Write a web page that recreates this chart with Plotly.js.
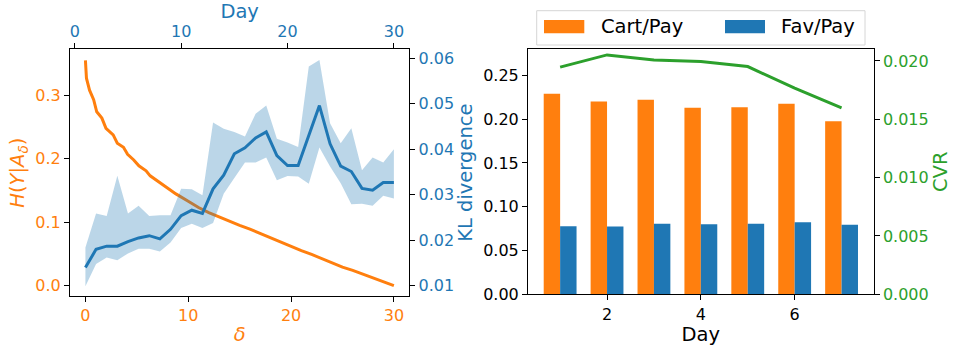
<!DOCTYPE html>
<html>
<head>
<meta charset="utf-8">
<script src="https://cdn.plot.ly/plotly-3.0.1.min.js"></script>
<style>html,body{margin:0;padding:0;background:#fff;}#chart{width:953px;height:346px;}</style>
</head>
<body>
<div id="chart"></div>
<script>
// ---- Left panel data ----
const deltaVals = [0,0.1,0.4,0.8,1.1,1.6,2,2.7,3.1,3.7,4.1,4.7,5.2,5.9,6.3,7.1,7.9,8.8,10,11,12,13,14,15,16,17,18,19,20,21,22,23,24,25,26,27,28,29,30];
const entropyVals = [0.355,0.327,0.308,0.293,0.274,0.264,0.248,0.2375,0.2244,0.218,0.207,0.198,0.1887,0.181,0.173,0.164,0.155,0.1445,0.133,0.123,0.115,0.108,0.101,0.095,0.089,0.082,0.075,0.068,0.062,0.055,0.049,0.042,0.036,0.029,0.024,0.018,0.012,0.006,0.0];

const klDays = [1,2,3,4,5,6,7,8,9,10,11,12,13,14,15,16,17,18,19,20,21,22,23,24,25,26,27,28,29,30];
const klMean = [0.0140,0.0180,0.0187,0.0187,0.0197,0.0205,0.0210,0.0203,0.0224,0.0254,0.0266,0.0259,0.0313,0.0343,0.0390,0.0403,0.0425,0.0438,0.0386,0.0364,0.0364,0.0430,0.0496,0.0412,0.0363,0.0351,0.0314,0.0310,0.0327,0.0327];
const klUpper = [0.0184,0.0259,0.0253,0.0342,0.0259,0.0276,0.0253,0.0255,0.0255,0.0313,0.0312,0.0299,0.0459,0.0445,0.0438,0.0428,0.0478,0.0496,0.0423,0.0415,0.0405,0.0582,0.0596,0.0457,0.0413,0.0446,0.0354,0.0382,0.0371,0.0400];
const klLower = [0.0099,0.0148,0.0162,0.0156,0.0171,0.0181,0.0181,0.0175,0.0195,0.0227,0.0236,0.0227,0.0238,0.0302,0.0337,0.0371,0.0371,0.0382,0.0332,0.0341,0.0340,0.0324,0.0404,0.0362,0.0325,0.0279,0.0280,0.0276,0.0298,0.0292];

// ---- Right panel data ----
const weekDays = [1,2,3,4,5,6,7];
const cartPay = [0.229,0.220,0.222,0.213,0.2134,0.2176,0.1975];
const favPay = [0.0776,0.0773,0.0806,0.0799,0.0806,0.0822,0.0795];
const cvrVals = [0.01947,0.02052,0.02009,0.01995,0.01952,0.01767,0.01598];
const legendNames = ['Cart/Pay','Fav/Pay'];

const ORANGE = '#ff7f0e', BLUE = '#1f77b4', GREEN = '#2ca02c';
const FONT = 'DejaVu Sans, sans-serif';
const W = 953, H = 346;
const px = v => v / W, py = v => 1 - v / H;

const traces = [
  {x: deltaVals, y: entropyVals, xaxis: 'x', yaxis: 'y', mode: 'lines',
   line: {color: ORANGE, width: 3}, showlegend: false, hoverinfo: 'skip'},
  {x: klDays, y: klLower, xaxis: 'x2', yaxis: 'y2', mode: 'lines',
   line: {width: 0, color: 'rgba(0,0,0,0)'}, showlegend: false, hoverinfo: 'skip'},
  {x: klDays, y: klUpper, xaxis: 'x2', yaxis: 'y2', mode: 'lines', fill: 'tonexty',
   fillcolor: 'rgba(31,119,180,0.3)', line: {width: 0, color: 'rgba(0,0,0,0)'},
   showlegend: false, hoverinfo: 'skip'},
  {x: klDays, y: klMean, xaxis: 'x2', yaxis: 'y2', mode: 'lines',
   line: {color: BLUE, width: 3}, showlegend: false},
  {type: 'bar', name: legendNames[0], x: weekDays, y: cartPay, xaxis: 'x3', yaxis: 'y3',
   width: 0.35, offset: -0.35, marker: {color: ORANGE}, showlegend: false},
  {type: 'bar', name: legendNames[1], x: weekDays, y: favPay, xaxis: 'x3', yaxis: 'y3',
   width: 0.35, offset: 0, marker: {color: BLUE}, showlegend: false},
  {x: weekDays, y: cvrVals, xaxis: 'x3', yaxis: 'y4', mode: 'lines',
   line: {color: GREEN, width: 3}, showlegend: false}
];

const tickFont = c => ({family: FONT, size: 16, color: c});
const titleFont = c => ({family: FONT, size: 19.5, color: c});
const base = {showgrid: false, zeroline: false, showline: true, linecolor: '#000', linewidth: 1,
  ticks: 'outside', ticklen: 5, tickcolor: '#000', tickwidth: 1, automargin: false};

const lx = [px(70), px(409.3)], ly = [py(296), py(49.3)];
const rx = [px(528), px(873.7)], ry = [py(294.3), py(49.3)];

const layout = {
  width: W, height: H, margin: {l: 0, r: 0, t: 0, b: 0},
  paper_bgcolor: '#fff', plot_bgcolor: 'rgba(0,0,0,0)', showlegend: false,
  barmode: 'overlay',
  xaxis: Object.assign({}, base, {domain: lx, anchor: 'y', range: [-1.5, 31.5],
    tickvals: [0,10,20,30], tickfont: tickFont(ORANGE),
    title: {text: '<i>δ</i>', font: titleFont(ORANGE), standoff: 4}}),
  xaxis2: Object.assign({}, base, {overlaying: 'x', side: 'top', anchor: 'y', range: [-0.45, 31.45],
    tickvals: [0,10,20,30], tickfont: tickFont(BLUE),
    title: {text: 'Day', font: titleFont(BLUE), standoff: 1}}),
  yaxis: Object.assign({}, base, {domain: ly, anchor: 'x', range: [-0.0165, 0.3725],
    tickvals: [0,0.1,0.2,0.3], tickformat: '.1f', tickfont: tickFont(ORANGE),
    title: {text: '<i>H</i>(<i>Y</i>|<i>A</i><sub><i>δ</i></sub>)', font: titleFont(ORANGE), standoff: 5}}),
  yaxis2: Object.assign({}, base, {overlaying: 'y', side: 'right', anchor: 'x', range: [0.00774, 0.06197],
    tickvals: [0.01,0.02,0.03,0.04,0.05,0.06], tickformat: '.2f', tickfont: tickFont(BLUE),
    title: {text: 'KL divergence', font: titleFont(BLUE), standoff: 5}}),
  xaxis3: Object.assign({}, base, {domain: rx, anchor: 'y3', range: [0.315, 7.685], mirror: true,
    tickvals: [2,4,6], tickfont: tickFont('#000'),
    title: {text: 'Day', font: titleFont('#000'), standoff: 3}}),
  yaxis3: Object.assign({}, base, {domain: ry, anchor: 'x3', range: [0, 0.2797],
    tickvals: [0,0.05,0.1,0.15,0.2,0.25], tickformat: '.2f', tickfont: tickFont('#000')}),
  yaxis4: Object.assign({}, base, {overlaying: 'y3', side: 'right', anchor: 'x3', range: [0, 0.021],
    tickvals: [0,0.005,0.01,0.015,0.02], tickformat: '.3f', tickfont: tickFont(GREEN),
    title: {text: 'CVR', font: titleFont(GREEN), standoff: 4}}),
  shapes: [
    {type: 'rect', xref: 'paper', yref: 'paper', x0: px(536.7), x1: px(865), y0: py(45), y1: py(10.7),
     line: {color: '#d6d6d6', width: 1}, fillcolor: 'rgba(255,255,255,0.8)'},
    {type: 'rect', xref: 'paper', yref: 'paper', x0: px(544), x1: px(584.3), y0: py(33.3), y1: py(20),
     line: {width: 0}, fillcolor: ORANGE},
    {type: 'rect', xref: 'paper', yref: 'paper', x0: px(725), x1: px(765), y0: py(33.3), y1: py(20),
     line: {width: 0}, fillcolor: BLUE}
  ],
  annotations: [
    {xref: 'paper', yref: 'paper', x: px(599), y: py(26.7), xanchor: 'left', yanchor: 'middle',
     text: legendNames[0], showarrow: false, font: {family: FONT, size: 19.5, color: '#000'}},
    {xref: 'paper', yref: 'paper', x: px(779), y: py(26.7), xanchor: 'left', yanchor: 'middle',
     text: legendNames[1], showarrow: false, font: {family: FONT, size: 19.5, color: '#000'}}
  ]
};

Plotly.newPlot('chart', traces, layout, {displayModeBar: false, staticPlot: true});
</script>
</body>
</html>
